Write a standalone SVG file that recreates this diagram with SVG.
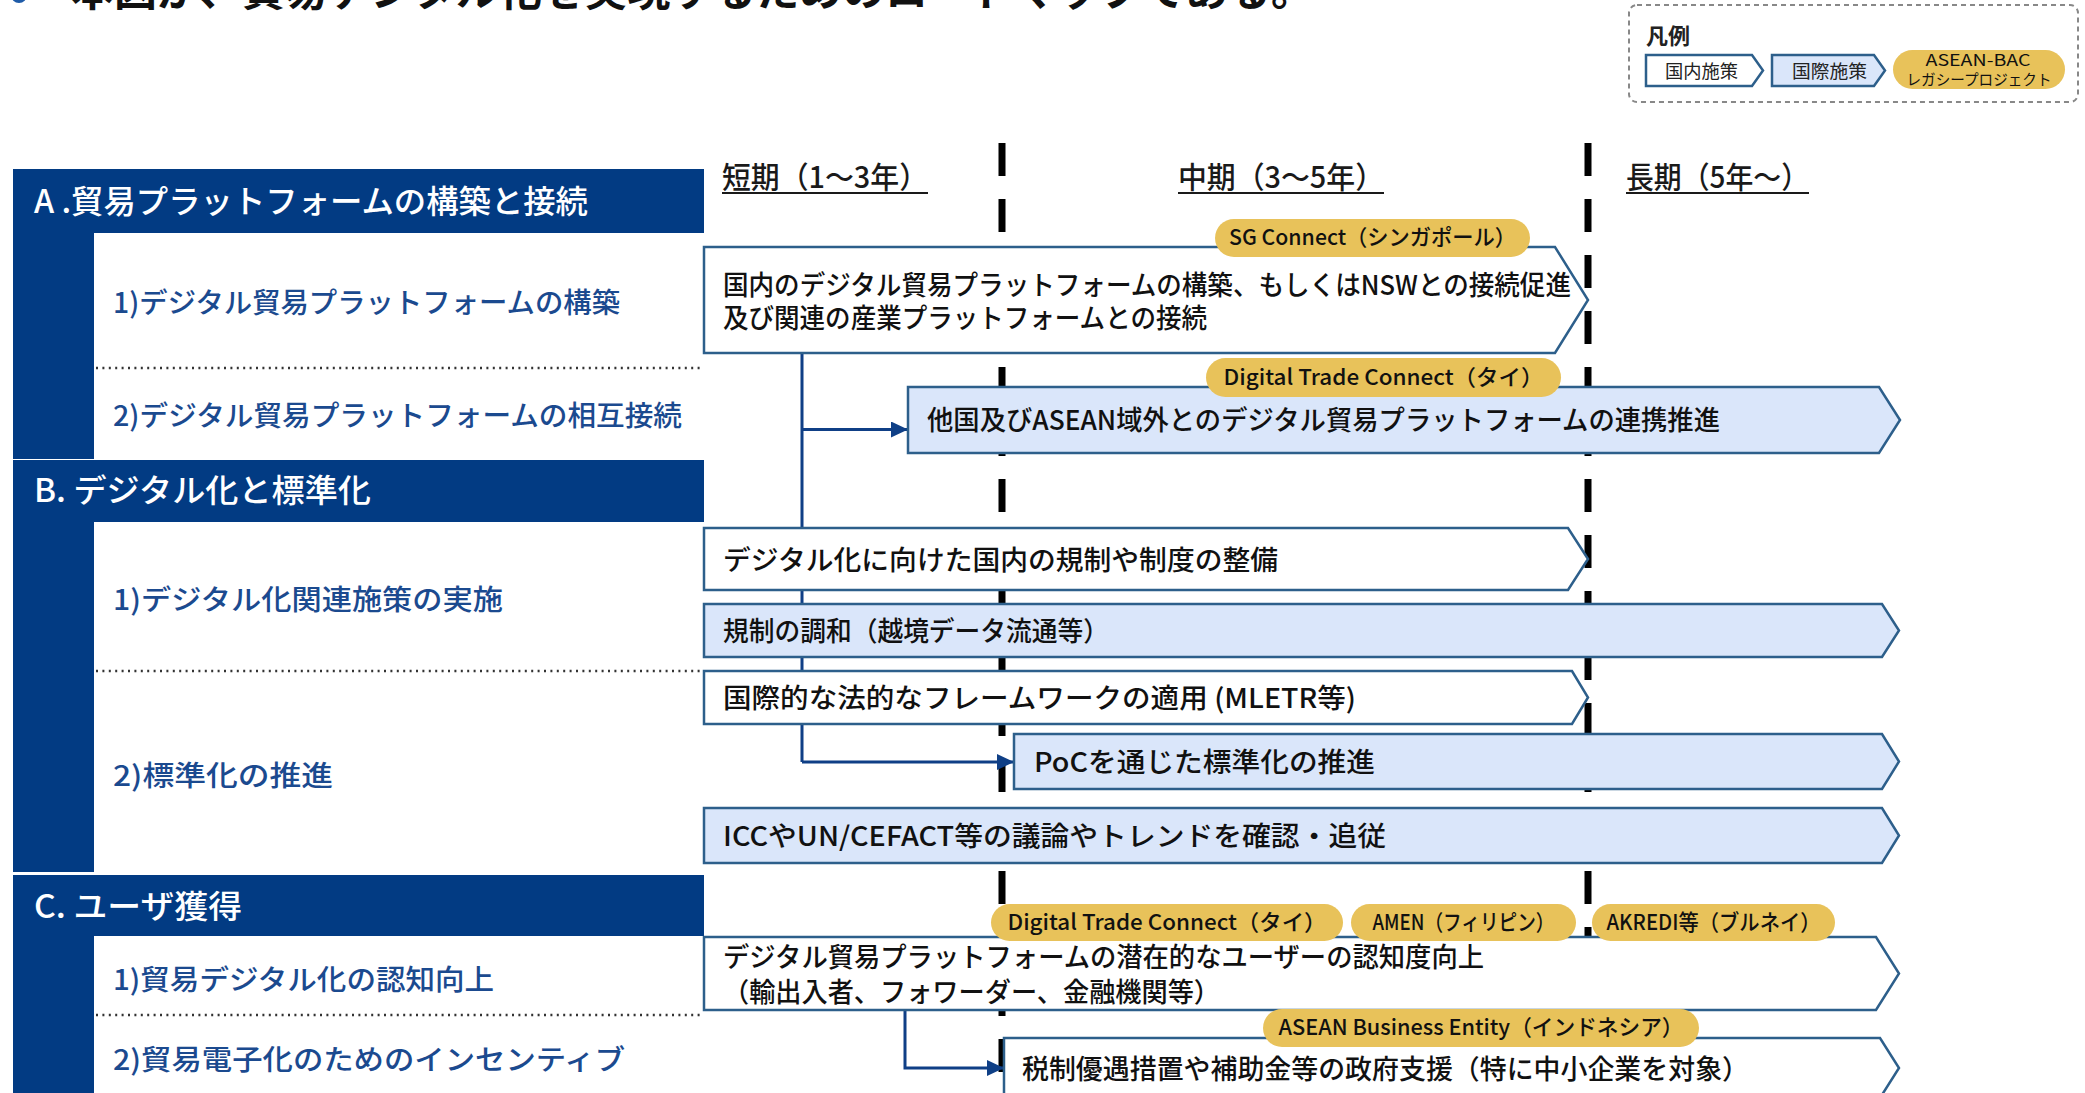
<svg xmlns="http://www.w3.org/2000/svg" width="2085" height="1093" viewBox="0 0 2085 1093">
<defs>
<style>
text{font-family:"Noto Sans CJK JP","Noto Sans",sans-serif;}
.title{font-size:43px;font-weight:bold;fill:#111;}
.hdr{font-size:32px;font-weight:500;fill:#fff;}
.sub{font-size:28px;font-weight:500;fill:#1B4A8F;}
.col{font-size:30px;font-weight:500;fill:#1a1a1a;}
.bx{font-size:27px;font-weight:500;fill:#111;}
.pl{font-size:22px;font-weight:500;fill:#111;}
.lg{font-size:18px;fill:#222;}
.navy{fill:#023B83;}
.dom{fill:#ffffff;stroke:#2D5F8B;stroke-width:2.5;}
.intl{fill:#DAE6FA;stroke:#2D5F8B;stroke-width:2.5;}
.pill{fill:#E8C25A;}
.dot{stroke:#333;stroke-width:2.5;stroke-dasharray:2 4.4;fill:none;}
.phase{stroke:#000;stroke-width:7;stroke-dasharray:33 23;fill:none;}
.conn{stroke:#0F3F86;stroke-width:3;fill:none;}
.ul{stroke:#1a1a1a;stroke-width:2;}
</style>
<marker id="arr" markerUnits="userSpaceOnUse" markerWidth="18" markerHeight="16" refX="17" refY="8" orient="auto">
<path d="M0,0 L17,8 L0,16 Z" fill="#0F3F86"/>
</marker>
</defs>
<rect width="2085" height="1093" fill="#fff"/>

<g id="title">
<circle cx="19" cy="-5" r="8" fill="#1F5BA8"/>
<text class="title" x="71" y="6" textLength="1243" lengthAdjust="spacingAndGlyphs">本図が、貿易デジタル化を実現するためのロードマップである。</text>
</g>

<g id="legend">
<rect x="1629" y="5" width="449" height="97" rx="8" fill="none" stroke="#888" stroke-width="2" stroke-dasharray="5 4"/>
<text x="1646" y="44" style="font-size:22px;font-weight:bold;fill:#222">凡例</text>
<polygon class="dom" points="1646,55 1752,55 1763,70.5 1752,86 1646,86"/>
<text class="lg" x="1665" y="78" textLength="73" lengthAdjust="spacingAndGlyphs">国内施策</text>
<polygon class="intl" points="1772,55 1874,55 1885,70.5 1874,86 1772,86"/>
<text class="lg" x="1792" y="78" textLength="75" lengthAdjust="spacingAndGlyphs">国際施策</text>
<rect class="pill" x="1893" y="50" width="172" height="39" rx="19.5"/>
<text x="1978" y="66" text-anchor="middle" style="font-size:16px;fill:#111" textLength="105" lengthAdjust="spacingAndGlyphs">ASEAN-BAC</text>
<text x="1979" y="85" text-anchor="middle" style="font-size:15px;fill:#111" textLength="145" lengthAdjust="spacingAndGlyphs">レガシープロジェクト</text>
</g>

<g id="phase-lines">
<line class="phase" x1="1002" y1="143" x2="1002" y2="1093"/>
<line class="phase" x1="1588" y1="143" x2="1588" y2="1093"/>
</g>

<g id="col-headings">
<text class="col" x="722" y="188" textLength="206" lengthAdjust="spacingAndGlyphs">短期（1～3年）</text>
<line class="ul" x1="722" y1="193" x2="928" y2="193"/>
<text class="col" x="1178" y="188" textLength="206" lengthAdjust="spacingAndGlyphs">中期（3～5年）</text>
<line class="ul" x1="1178" y1="193" x2="1384" y2="193"/>
<text class="col" x="1626" y="188" textLength="183" lengthAdjust="spacingAndGlyphs">長期（5年～）</text>
<line class="ul" x1="1626" y1="193" x2="1809" y2="193"/>
</g>

<g id="section-A">
<rect class="navy" x="13" y="169" width="691" height="64"/>
<rect class="navy" x="13" y="233" width="81" height="226"/>
<text class="hdr" x="34" y="213" textLength="554" lengthAdjust="spacingAndGlyphs">A .貿易プラットフォームの構築と接続</text>
<text class="sub" x="113" y="313" textLength="507" lengthAdjust="spacingAndGlyphs">1)デジタル貿易プラットフォームの構築</text>
<line class="dot" x1="96" y1="368" x2="704" y2="368"/>
<text class="sub" x="113" y="426" textLength="569" lengthAdjust="spacingAndGlyphs">2)デジタル貿易プラットフォームの相互接続</text>
</g>

<g id="section-B">
<rect class="navy" x="13" y="460" width="691" height="62"/>
<rect class="navy" x="13" y="522" width="81" height="350"/>
<text class="hdr" x="34" y="502" textLength="337" lengthAdjust="spacingAndGlyphs">B. デジタル化と標準化</text>
<text class="sub" x="113" y="610" textLength="390" lengthAdjust="spacingAndGlyphs">1)デジタル化関連施策の実施</text>
<line class="dot" x1="96" y1="671" x2="704" y2="671"/>
<text class="sub" x="113" y="786" textLength="220" lengthAdjust="spacingAndGlyphs">2)標準化の推進</text>
</g>

<g id="section-C">
<rect class="navy" x="13" y="875" width="691" height="61"/>
<rect class="navy" x="13" y="936" width="81" height="157"/>
<text class="hdr" x="34" y="918" textLength="208" lengthAdjust="spacingAndGlyphs">C. ユーザ獲得</text>
<text class="sub" x="113" y="990" textLength="381" lengthAdjust="spacingAndGlyphs">1)貿易デジタル化の認知向上</text>
<line class="dot" x1="96" y1="1015" x2="704" y2="1015"/>
<text class="sub" x="113" y="1070" textLength="512" lengthAdjust="spacingAndGlyphs">2)貿易電子化のためのインセンティブ</text>
</g>

<g id="connectors">
<path class="conn" d="M802,353 V762"/>
<path class="conn" d="M802,429.5 H908" marker-end="url(#arr)"/>
<path class="conn" d="M802,762 H1014" marker-end="url(#arr)"/>
<path class="conn" d="M905,1010 V1068 H1004" marker-end="url(#arr)"/>
</g>

<g id="box-A1">
<polygon class="dom" points="704,247 1555,247 1588,300 1555,353 704,353"/>
<text class="bx" x="723" y="295" textLength="848" lengthAdjust="spacingAndGlyphs">国内のデジタル貿易プラットフォームの構築、もしくはNSWとの接続促進</text>
<text class="bx" x="723" y="328" textLength="484" lengthAdjust="spacingAndGlyphs">及び関連の産業プラットフォームとの接続</text>
</g>
<g id="box-A2">
<polygon class="intl" points="908,387 1879,387 1900,420 1879,453 908,453"/>
<text class="bx" x="927" y="430" textLength="793" lengthAdjust="spacingAndGlyphs">他国及びASEAN域外とのデジタル貿易プラットフォームの連携推進</text>
</g>
<g id="box-B1">
<polygon class="dom" points="704,528 1568,528 1588,559 1568,590 704,590"/>
<text class="bx" x="723" y="570" textLength="555" lengthAdjust="spacingAndGlyphs">デジタル化に向けた国内の規制や制度の整備</text>
</g>
<g id="box-B2">
<polygon class="intl" points="704,604 1882,604 1899,630.5 1882,657 704,657"/>
<text class="bx" x="723" y="641" textLength="386" lengthAdjust="spacingAndGlyphs">規制の調和（越境データ流通等）</text>
</g>
<g id="box-B3">
<polygon class="dom" points="704,671 1572,671 1588,697.5 1572,724 704,724"/>
<text class="bx" x="723" y="708" textLength="633" lengthAdjust="spacingAndGlyphs">国際的な法的なフレームワークの適用 (MLETR等)</text>
</g>
<g id="box-B4">
<polygon class="intl" points="1014,734 1882,734 1899,761.5 1882,789 1014,789"/>
<text class="bx" x="1034" y="772" textLength="341" lengthAdjust="spacingAndGlyphs">PoCを通じた標準化の推進</text>
</g>
<g id="box-B5">
<polygon class="intl" points="704,808 1882,808 1899,835.5 1882,863 704,863"/>
<text class="bx" x="723" y="846" textLength="663" lengthAdjust="spacingAndGlyphs">ICCやUN/CEFACT等の議論やトレンドを確認・追従</text>
</g>
<g id="box-C1">
<polygon class="dom" points="704,937 1876,937 1899,973.5 1876,1010 704,1010"/>
<text class="bx" x="723" y="967" textLength="761" lengthAdjust="spacingAndGlyphs">デジタル貿易プラットフォームの潜在的なユーザーの認知度向上</text>
<text class="bx" x="723" y="1002" textLength="497" lengthAdjust="spacingAndGlyphs">（輸出入者、フォワーダー、金融機関等）</text>
</g>
<g id="box-C2">
<polygon class="dom" points="1004,1038 1880,1038 1899,1068 1880,1098 1004,1098"/>
<text class="bx" x="1022" y="1079" textLength="727" lengthAdjust="spacingAndGlyphs">税制優遇措置や補助金等の政府支援（特に中小企業を対象）</text>
</g>

<g id="pill-sg">
<rect class="pill" x="1215" y="219" width="315" height="38" rx="19"/>
<text class="pl" x="1372.5" y="245" text-anchor="middle" textLength="287" lengthAdjust="spacingAndGlyphs">SG Connect（シンガポール）</text>
</g>
<g id="pill-dtc1">
<rect class="pill" x="1206" y="358" width="355" height="39" rx="19.5"/>
<text class="pl" x="1383.5" y="385" text-anchor="middle" textLength="320" lengthAdjust="spacingAndGlyphs">Digital Trade Connect（タイ）</text>
</g>
<g id="pill-dtc2">
<rect class="pill" x="991" y="904" width="352" height="37" rx="18.5"/>
<text class="pl" x="1167" y="930" text-anchor="middle" textLength="319" lengthAdjust="spacingAndGlyphs">Digital Trade Connect（タイ）</text>
</g>
<g id="pill-amen">
<rect class="pill" x="1351" y="904" width="225" height="37" rx="18.5"/>
<text class="pl" x="1463.5" y="930" text-anchor="middle" textLength="182" lengthAdjust="spacingAndGlyphs">AMEN（フィリピン）</text>
</g>
<g id="pill-akredi">
<rect class="pill" x="1592" y="904" width="243" height="37" rx="18.5"/>
<text class="pl" x="1713.5" y="930" text-anchor="middle" textLength="214" lengthAdjust="spacingAndGlyphs">AKREDI等（ブルネイ）</text>
</g>
<g id="pill-abe">
<rect class="pill" x="1263" y="1009" width="436" height="38" rx="19"/>
<text class="pl" x="1481" y="1035" text-anchor="middle" textLength="405" lengthAdjust="spacingAndGlyphs">ASEAN Business Entity（インドネシア）</text>
</g>
</svg>
